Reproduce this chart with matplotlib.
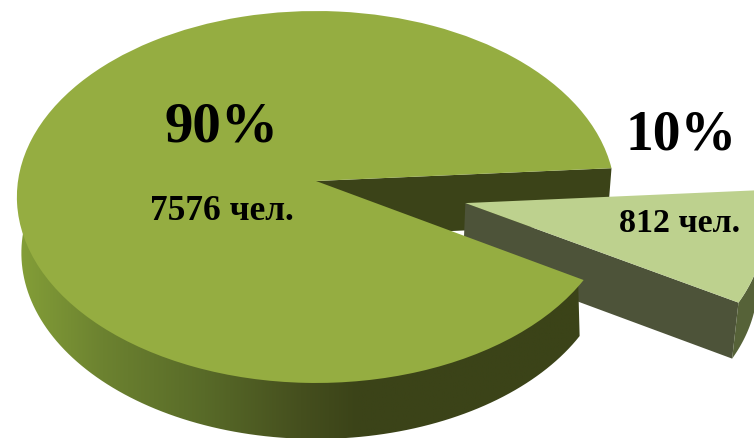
import numpy as np
import matplotlib
matplotlib.use("Agg")
import matplotlib.pyplot as plt
from matplotlib.colors import LinearSegmentedColormap
from matplotlib.patches import Polygon
from matplotlib.transforms import Transform

people = [7576, 812]
percent_labels = ["90%", "10%"]
people_labels = ["7576 чел.", "812 чел."]
top_colors = ["#95ad41", "#bdd18e"]
explode = [0, 0.51]

# projection of the flat pie into picture pixels
cx, cy, a, b, k = 316, 181, 298, 184.6, 0.086
depth = 56
shrink = 0.985


class Tilt(Transform):
    input_dims = 2
    output_dims = 2

    def transform_non_affine(self, values):
        u, v = values[:, 0], values[:, 1]
        w = 1 + k * v
        return np.column_stack([cx + a * u / w, cy - b * v / w])


tilt = Tilt()


def rim(center, t1, t2, low=False, r=1.0):
    t = np.radians(np.linspace(t1, t2, 120))
    pts = tilt.transform(np.column_stack([center[0] + r * np.cos(t), center[1] + r * np.sin(t)]))
    if low:
        pts = np.column_stack([cx + (pts[:, 0] - cx) * shrink, pts[:, 1] + depth])
    return pts


def side(p, q):
    # wall under the straight edge p-q
    pts = tilt.transform(np.array([p, q]))
    low = np.column_stack([cx + (pts[:, 0] - cx) * shrink, pts[:, 1] + depth])
    return np.vstack([pts, low[::-1]])


fig = plt.figure(figsize=(7.54, 4.38), dpi=100)
ax = fig.add_axes([0, 0, 1, 1])

wedges, _ = ax.pie(people, colors=top_colors, startangle=4, explode=explode, radius=1)
big, small = wedges
small.set_radius(0.985)
ax.set_aspect("auto")
ax.set_xlim(0, 754)
ax.set_ylim(438, 0)
ax.axis("off")

for w in wedges:
    w.set_transform(tilt + ax.transData)
    w.set_linewidth(0)
big.set_zorder(6)
small.set_zorder(3)

# inner cut of the big slice
t = np.radians(big.theta1)
ax.add_patch(Polygon(side((0, 0), (np.cos(t), np.sin(t))), color="#3b4318", lw=0, zorder=1))

# walls of the pulled out slice
c = small.center
r = small.r
t = np.radians(small.theta1)
corner = (c[0] + r * np.cos(t), c[1] + r * np.sin(t))
ax.add_patch(Polygon(side(c, corner), color="#4d5339", lw=0, zorder=2))
ax.add_patch(Polygon(np.vstack([rim(c, small.theta1, small.theta2, r=r),
                                rim(c, small.theta1, small.theta2, True, r=r)[::-1]]),
                     color="#566238", lw=0, zorder=2))

# outer wall of the big slice with left to right shading
wall = Polygon(np.vstack([rim((0, 0), 160, big.theta2, r=0.98),
                          rim((0, 0), 160, big.theta2, True)[::-1]]),
               transform=ax.transData, fill=False, lw=0)
ax.add_patch(wall)
shade = LinearSegmentedColormap.from_list(
    "shade", [(0, "#849f38"), (0.15, "#6c8230"), (0.33, "#586a28"),
              (0.5, "#454f1e"), (0.6, "#3b4318"), (1, "#3b4318")])
img = ax.imshow(np.linspace(0, 1, 256).reshape(1, -1), cmap=shade, aspect="auto",
                extent=(17, 585, 438, 170), zorder=5)
img.set_clip_path(wall)
ax.set_xlim(0, 754)
ax.set_ylim(438, 0)

font = "Liberation Serif"
ax.text(221, 127, percent_labels[0], fontsize=41, fontweight="bold", family=font,
        ha="center", va="center", color="black", zorder=8)
ax.text(681, 136, percent_labels[1], fontsize=40, fontweight="bold", family=font,
        ha="center", va="center", color="black", zorder=8)
ax.text(222, 211, people_labels[0], fontsize=25.5, fontweight="bold", family=font,
        ha="center", va="center", color="black", zorder=8)
ax.text(680, 224, people_labels[1], fontsize=24.5, fontweight="bold", family=font,
        ha="center", va="center", color="black", zorder=8)

fig.savefig("out.png", dpi=100, facecolor="white")
